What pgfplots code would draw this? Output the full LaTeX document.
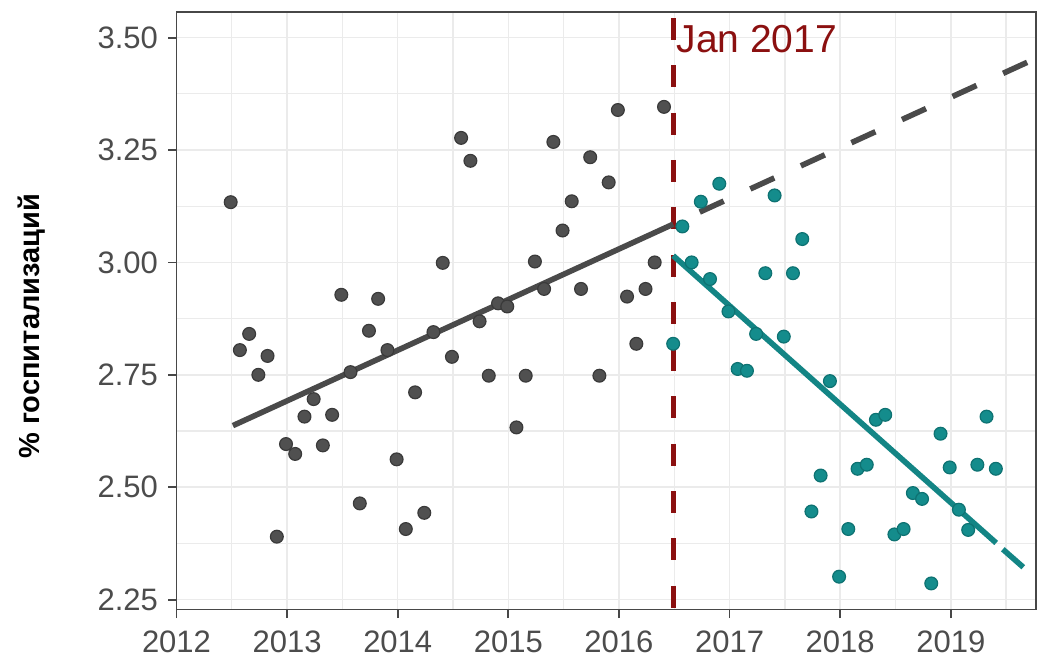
\documentclass[border=0pt]{standalone}
\usepackage{fontspec}
\setmainfont{Liberation Sans}
\usepackage{pgfplots}
\usepackage{pgfplotstable}
\pgfplotsset{compat=1.18}
\definecolor{ptgrey}{HTML}{505050}
\definecolor{ptgreyd}{HTML}{3A3A3A}
\definecolor{lngrey}{HTML}{4A4A4A}
\definecolor{ptteal}{HTML}{148C8C}
\definecolor{ptteald}{HTML}{0E7272}
\definecolor{lnteal}{HTML}{138585}
\definecolor{vred}{HTML}{8B1010}
\definecolor{gridc}{HTML}{EBEBEB}

\pgfplotstableread{
x y
2012.490 3.134
2012.573 2.805
2012.657 2.841
2012.740 2.750
2012.823 2.792
2012.907 2.390
2012.990 2.596
2013.073 2.574
2013.157 2.657
2013.240 2.696
2013.323 2.593
2013.407 2.661
2013.490 2.928
2013.573 2.756
2013.657 2.464
2013.740 2.848
2013.823 2.919
2013.907 2.805
2013.990 2.562
2014.073 2.407
2014.157 2.711
2014.240 2.443
2014.323 2.845
2014.407 2.999
2014.490 2.790
2014.573 3.277
2014.657 3.226
2014.740 2.869
2014.823 2.748
2014.907 2.909
2014.990 2.902
2015.073 2.633
2015.157 2.748
2015.240 3.002
2015.323 2.941
2015.407 3.268
2015.490 3.071
2015.573 3.136
2015.657 2.941
2015.740 3.234
2015.823 2.748
2015.907 3.178
2015.990 3.339
2016.073 2.924
2016.157 2.819
2016.240 2.941
2016.323 3.000
2016.407 3.346
}\pre

\pgfplotstableread{
x y
2016.490 2.819
2016.573 3.080
2016.657 3.000
2016.740 3.135
2016.823 2.963
2016.907 3.175
2016.990 2.891
2017.073 2.763
2017.157 2.759
2017.240 2.841
2017.323 2.976
2017.407 3.149
2017.490 2.835
2017.573 2.976
2017.657 3.052
2017.740 2.446
2017.823 2.526
2017.907 2.736
2017.990 2.301
2018.073 2.407
2018.157 2.541
2018.240 2.550
2018.323 2.650
2018.407 2.661
2018.490 2.395
2018.573 2.407
2018.657 2.487
2018.740 2.474
2018.823 2.286
2018.907 2.619
2018.990 2.544
2019.073 2.450
2019.157 2.405
2019.240 2.550
2019.323 2.657
2019.407 2.541
}\post

\begin{document}
\begin{tikzpicture}
\begin{axis}[
  scale only axis,
  width=429.75pt, height=298.75pt,
  xmin=2012, xmax=2019.77, ymin=2.228, ymax=3.557,
  xtick={2012,2013,2014,2015,2016,2017,2018,2019},
  xticklabels={2012,2013,2014,2015,2016,2017,2018,2019},
  ytick={2.25,2.5,2.75,3,3.25,3.5},
  yticklabels={2.25,2.50,2.75,3.00,3.25,3.50},
  minor xtick={2012.5,2013.5,2014.5,2015.5,2016.5,2017.5,2018.5,2019.5},
  minor ytick={2.375,2.625,2.875,3.125,3.375},
  grid=both,
  major grid style={draw=gridc, line width=0.75pt},
  minor grid style={draw=gridc, line width=0.65pt},
  minor tick length=0pt,
  tick align=outside,
  major tick length=4.25pt,
  tick pos=left,
  axis line style={draw=black!72, line width=0.9pt},
  tick style={draw=black!72, line width=0.9pt},
  ticklabel style={font=\fontsize{15.5}{18}\selectfont, text=black!70},
  xticklabel style={yshift=-3pt},
  yticklabel style={xshift=-1.5pt},
  ylabel={\% госпитализаций},
  ylabel style={font=\bfseries\fontsize{14.5}{17}\selectfont, text=black, at={(axis description cs:-0.169,0.474)}, anchor=center},
  clip=true,
]
\addplot[vred, line width=2.5pt, dash pattern=on 11pt off 12.65pt, dash phase=20.65pt] coordinates {(2016.49,3.557) (2016.49,2.228)};
\addplot[only marks, mark=*, mark size=3.2pt, mark options={fill=ptgrey, draw=ptgreyd, line width=0.6pt}] table[x=x,y=y] {\pre};
\addplot[only marks, mark=*, mark size=3.2pt, mark options={fill=ptteal, draw=ptteald, line width=0.6pt}] table[x=x,y=y] {\post};
\addplot[lngrey, line width=2.8pt] coordinates {(2012.51,2.637) (2016.49,3.085)};
\addplot[lngrey, line width=2.8pt, dash pattern=on 13.2pt off 14.6pt, dash phase=13.2pt] coordinates {(2016.49,3.085) (2019.77,3.454)};
\addplot[lnteal, line width=2.8pt] coordinates {(2016.49,3.015) (2019.41,2.376)};
\addplot[lnteal, line width=2.8pt] coordinates {(2019.47,2.362) (2019.655,2.322)};
\node[anchor=base west, inner sep=0pt, xshift=1.5pt, text=vred, font=\fontsize{19.5}{22}\selectfont] at (axis cs:2016.49,3.466) {Jan 2017};
\end{axis}
\pgfresetboundingbox
\path ([shift={(-88.25pt,-25.25pt)}]current axis.south west) rectangle ([shift={(2pt,6pt)}]current axis.north east);
\end{tikzpicture}
\end{document}
